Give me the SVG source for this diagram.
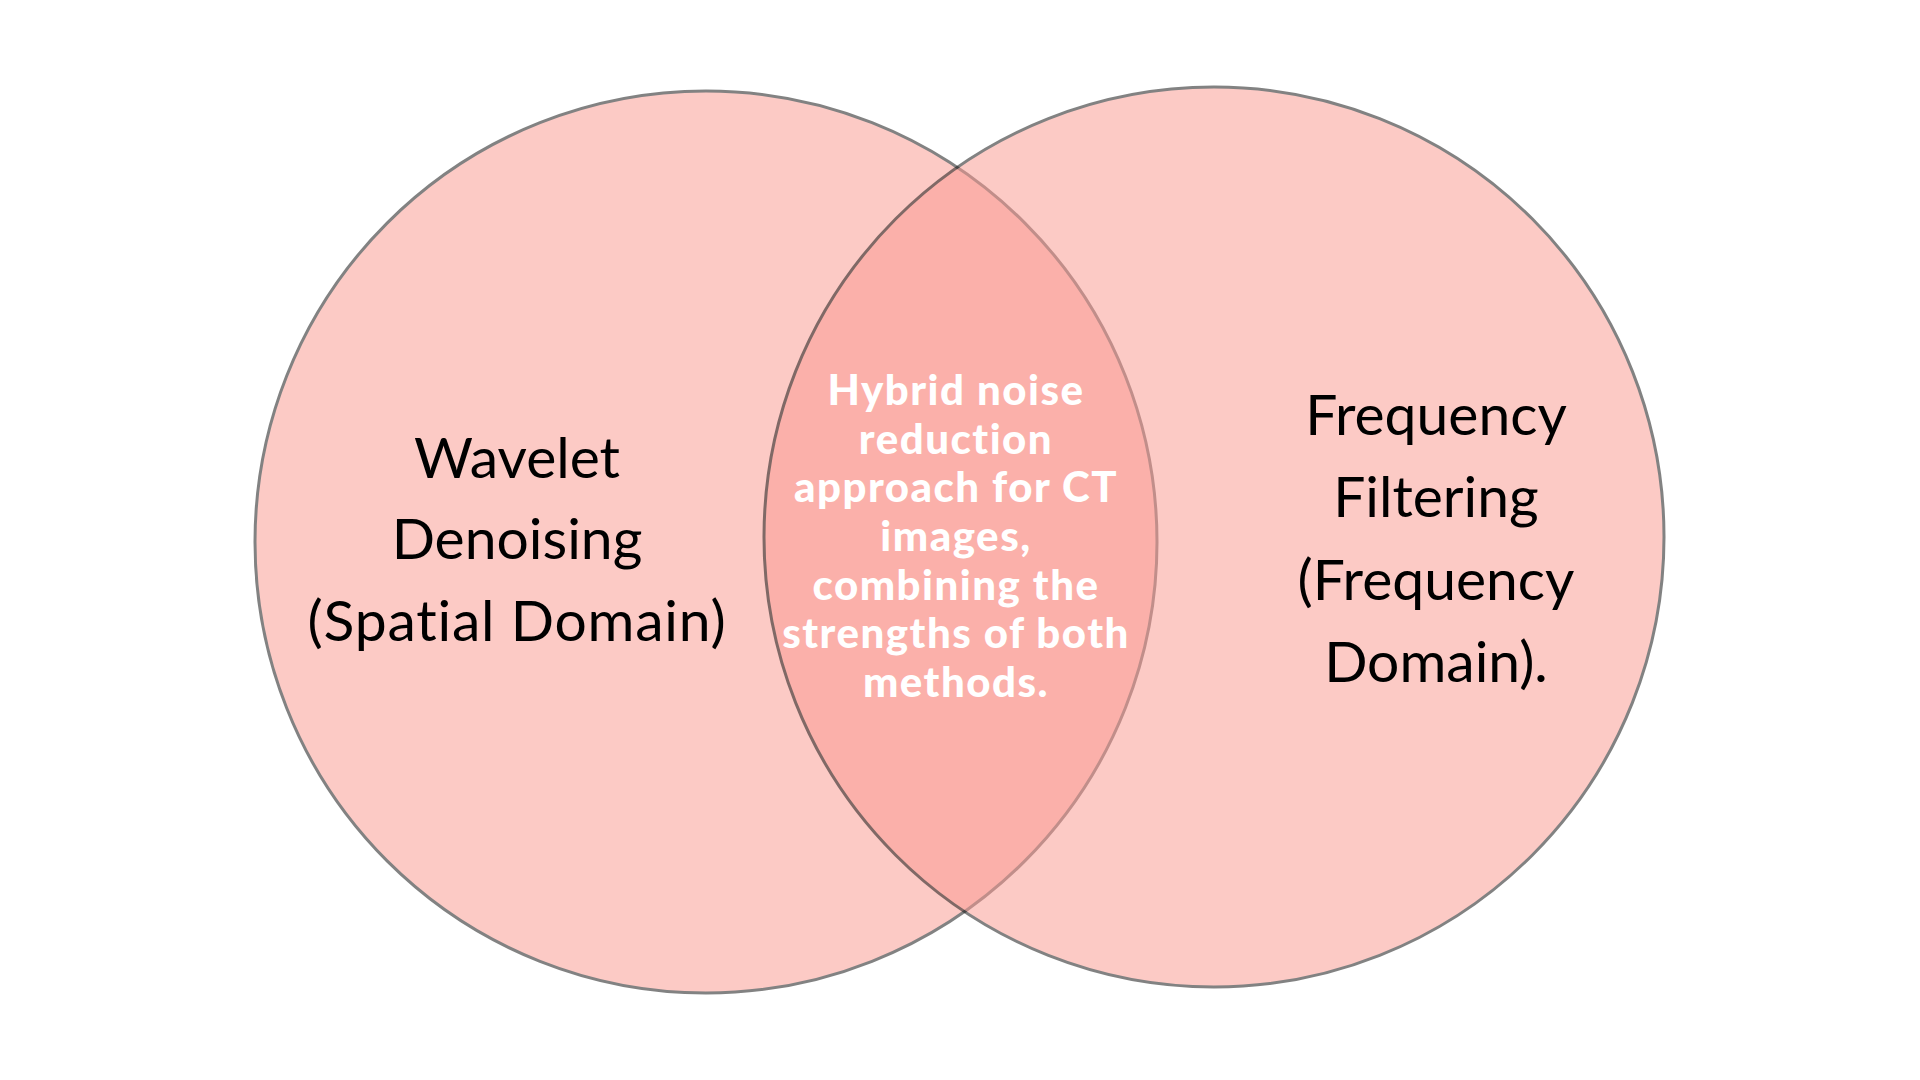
<svg xmlns="http://www.w3.org/2000/svg" width="1920" height="1080" viewBox="0 0 1920 1080">
  <style>
    .set { fill: #fb9a92; stroke: #111111; stroke-width: 3; opacity: 0.52; }
    text { font-variant-ligatures: none; }
    .lbl { font-family: Lato, "Liberation Sans", sans-serif; font-size: 57px; fill: #000000; text-anchor: middle; }
    .mid { font-family: Lato, "Liberation Sans", sans-serif; font-size: 42px; font-weight: 900; fill: #ffffff; text-anchor: middle; letter-spacing: 1.5px; }
  </style>
  <rect width="1920" height="1080" fill="#ffffff"/>
  <g id="set-wavelet">
    <circle class="set" cx="706" cy="542" r="451"/>
  </g>
  <g id="set-frequency">
    <circle class="set" cx="1214" cy="537" r="450"/>
  </g>
  <g id="connectors"></g>
  <g id="label-wavelet">
    <text class="lbl" x="517" y="478">Wavelet</text>
    <text class="lbl" x="517" y="559">Denoising</text>
    <text class="lbl" x="517" y="641" letter-spacing="0.8">(Spatial Domain)</text>
  </g>
  <g id="label-frequency">
    <text class="lbl" x="1436" y="435">Frequency</text>
    <text class="lbl" x="1436" y="517">Filtering</text>
    <text class="lbl" x="1436" y="600">(Frequency</text>
    <text class="lbl" x="1436" y="682">Domain).</text>
  </g>
  <g id="label-overlap">
    <text class="mid" x="956" y="405">Hybrid noise</text>
    <text class="mid" x="956" y="454">reduction</text>
    <text class="mid" x="956" y="502">approach for CT</text>
    <text class="mid" x="956" y="551">images,</text>
    <text class="mid" x="956" y="600">combining the</text>
    <text class="mid" x="956" y="648">strengths of both</text>
    <text class="mid" x="956" y="697">methods.</text>
  </g>
</svg>
